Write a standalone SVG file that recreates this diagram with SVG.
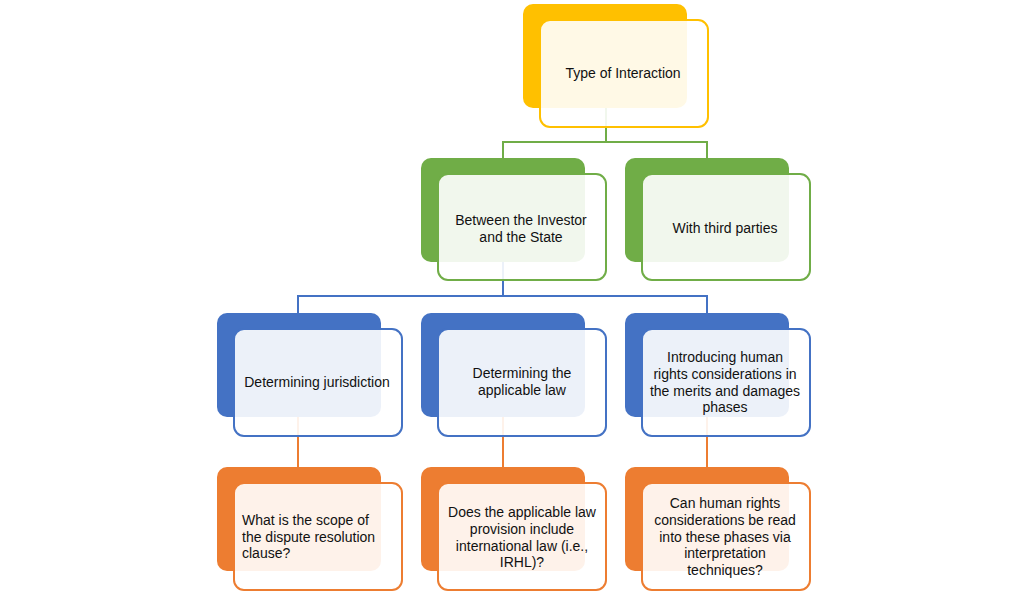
<svg xmlns="http://www.w3.org/2000/svg" width="1024" height="595" viewBox="0 0 1024 595">
<defs>
<style>
.bk{stroke:none}
.fr{fill:#ffffff;fill-opacity:0.9;stroke-width:2}
.y .bk{fill:#FFC000}.y .fr{stroke:#FFC000}
.g .bk{fill:#70AD47}.g .fr{stroke:#70AD47}
.b .bk{fill:#4472C4}.b .fr{stroke:#4472C4}
.o .bk{fill:#ED7D31}.o .fr{stroke:#ED7D31}
text{font-family:"Liberation Sans",Arial,sans-serif;font-size:14px;fill:#111111;text-anchor:middle}
text.l{text-anchor:start}
.c{fill:none;stroke-width:2}
</style>
</defs>
<rect width="1024" height="595" fill="#ffffff"/>
<g id="connectors">
<path class="c" stroke="#70AD47" d="M606,108 V142 H503 V158 M606,142 H707 V158"/>
<path class="c" stroke="#4472C4" d="M503,262 V296 H298 V313 M503,296 H707 V313"/>
<path class="c" stroke="#ED7D31" d="M298,417 V467 M503,417 V467 M707,417 V467"/>
</g>
<g id="type-of-interaction" class="y">
<rect class="bk" x="523" y="4" width="164" height="104" rx="10"/>
<rect class="fr" x="540" y="20" width="168" height="107" rx="10"/>
<text x="623" y="78">Type of Interaction</text>
</g>
<g id="investor-state" class="g">
<rect class="bk" x="421" y="158" width="164" height="104" rx="10"/>
<rect class="fr" x="438" y="174" width="168" height="106" rx="10"/>
<text x="521" y="225">Between the Investor</text>
<text x="521" y="242">and the State</text>
</g>
<g id="third-parties" class="g">
<rect class="bk" x="625" y="158" width="164" height="104" rx="10"/>
<rect class="fr" x="642" y="174" width="168" height="106" rx="10"/>
<text x="725" y="233">With third parties</text>
</g>
<g id="jurisdiction" class="b">
<rect class="bk" x="217" y="313" width="164" height="104" rx="10"/>
<rect class="fr" x="234" y="329" width="168" height="107" rx="10"/>
<text x="317" y="387">Determining jurisdiction</text>
</g>
<g id="applicable-law" class="b">
<rect class="bk" x="421" y="313" width="164" height="104" rx="10"/>
<rect class="fr" x="438" y="329" width="168" height="107" rx="10"/>
<text x="522" y="378">Determining the</text>
<text x="522" y="395">applicable law</text>
</g>
<g id="merits-damages" class="b">
<rect class="bk" x="625" y="313" width="164" height="104" rx="10"/>
<rect class="fr" x="642" y="329" width="168" height="107" rx="10"/>
<text x="725" y="362">Introducing human</text>
<text x="725" y="379">rights considerations in</text>
<text x="725" y="396">the merits and damages</text>
<text x="725" y="412">phases</text>
</g>
<g id="scope-clause" class="o">
<rect class="bk" x="217" y="467" width="164" height="104" rx="10"/>
<rect class="fr" x="234" y="483" width="168" height="107" rx="10"/>
<text class="l" x="242" y="525">What is the scope of</text>
<text class="l" x="242" y="542">the dispute resolution</text>
<text class="l" x="242" y="558">clause?</text>
</g>
<g id="intl-law" class="o">
<rect class="bk" x="421" y="467" width="164" height="104" rx="10"/>
<rect class="fr" x="438" y="483" width="168" height="107" rx="10"/>
<text x="522" y="517">Does the applicable law</text>
<text x="522" y="534">provision include</text>
<text x="522" y="551">international law (i.e.,</text>
<text x="522" y="567">IRHL)?</text>
</g>
<g id="interpretation" class="o">
<rect class="bk" x="625" y="467" width="164" height="104" rx="10"/>
<rect class="fr" x="642" y="483" width="168" height="107" rx="10"/>
<text x="725" y="508">Can human rights</text>
<text x="725" y="525">considerations be read</text>
<text x="725" y="542">into these phases via</text>
<text x="725" y="558">interpretation</text>
<text x="725" y="575">techniques?</text>
</g>
</svg>
